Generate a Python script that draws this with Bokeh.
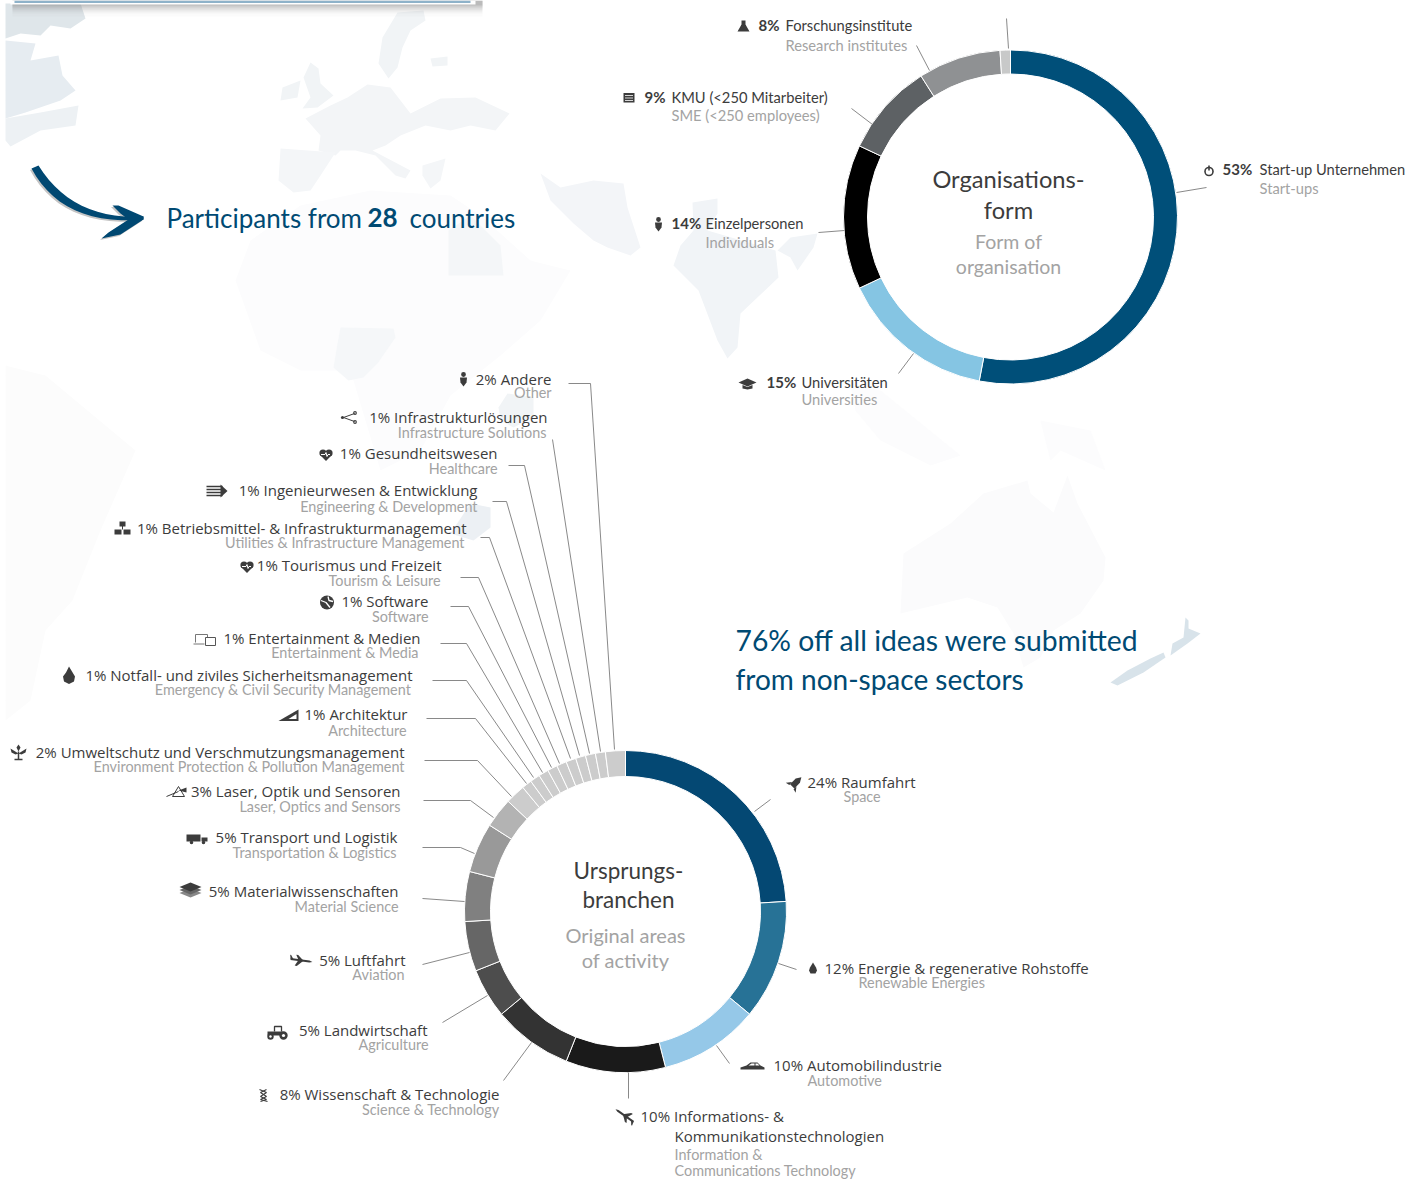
import math
from bokeh.plotting import figure
from bokeh.models import Range1d, ColumnDataSource
from bokeh.core.properties import value
from bokeh.embed import file_html
from bokeh.resources import INLINE

# ---------- data ----------
org_names = ["Start-up Unternehmen", "Universitäten", "Einzelpersonen", "KMU (<250 Mitarbeiter)", "Forschungsinstitute", "Sonstige"]
org_english = ["Start-ups", "Universities", "Individuals", "SME (<250 employees)", "Research institutes", ""]
org_values = [53, 15, 14, 9, 8, 1]
org_colors = ["#004f79", "#85c5e3", "#000000", "#5d6164", "#8f9193", "#c8c9c9"]

branch_names = ["Raumfahrt", "Energie & regenerative Rohstoffe", "Automobilindustrie", "Informations- &", "Wissenschaft & Technologie",
                "Landwirtschaft", "Luftfahrt", "Materialwissenschaften", "Transport und Logistik", "Laser, Optik und Sensoren",
                "Umweltschutz und Verschmutzungsmanagement", "Architektur", "Notfall- und ziviles Sicherheitsmanagement",
                "Entertainment & Medien", "Software", "Tourismus und Freizeit", "Betriebsmittel- & Infrastrukturmanagement",
                "Ingenieurwesen & Entwicklung", "Gesundheitswesen", "Infrastrukturlösungen", "Andere"]
branch_english = ["Space", "Renewable Energies", "Automotive", "Information &", "Science & Technology", "Agriculture", "Aviation",
                  "Material Science", "Transportation & Logistics", "Laser, Optics and Sensors",
                  "Environment Protection & Pollution Management", "Architecture", "Emergency & Civil Security Management",
                  "Entertainment & Media", "Software", "Tourism & Leisure", "Utilities & Infrastructure Management",
                  "Engineering & Development", "Healthcare", "Infrastructure Solutions", "Other"]
branch_values = [24, 12, 10, 10, 8, 5, 5, 5, 5, 3, 2, 1, 1, 1, 1, 1, 1, 1, 1, 1, 2]
branch_colors = ["#044873", "#277296", "#95c8e8", "#1a1a1a", "#333333", "#4d4d4d", "#666666", "#808080", "#999999", "#b3b3b3",
                 "#cccccc", "#cccccc", "#cccccc", "#cccccc", "#cccccc", "#cccccc", "#cccccc", "#cccccc", "#cccccc", "#cccccc", "#cccccc"]

# ---------- layout (pixel positions on the page) ----------
ORG_C, ORG_R = (1010, 216.5), (143, 167)
BR_C, BR_R = (625, 911), (135, 161)
# (pct x, name x, y, english y)
org_lab = [(1222, 1259, 170, 189), (766, 801, 383, 400), (671, 705, 224, 243), (644, 671, 98, 116), (758, 785, 26, 46)]
# (main edge x, main y, english edge x, english y, align)
br_lab = [(807, 783, 843, 798, "left"), (824, 969, 858, 984, "left"), (773, 1066, 807, 1082, "left"), (640, 1117, 674, 1156, "left"),
          (499, 1095, 499, 1111, "right"), (427, 1031, 428, 1046, "right"), (405, 961, 404, 976, "right"), (398, 892, 398, 908, "right"),
          (397, 838, 396, 854, "right"), (400, 792, 400, 808, "right"), (404, 753, 404, 768, "right"), (407, 715, 406, 732, "right"),
          (412, 676, 411, 691, "right"), (420, 639, 418, 654, "right"), (428, 602, 428, 618, "right"), (441, 566, 440, 582, "right"),
          (466, 529, 464, 544, "right"), (477, 491, 477, 508, "right"), (497, 454, 497, 470, "right"), (547, 418, 546, 434, "right"),
          (551, 380, 551, 394, "right")]
leaders = [
    [(1206, 187), (1176, 192)], [(898, 373), (913, 353)], [(818, 232), (844, 230)], [(851, 108), (872, 124)],
    [(916, 45), (929, 70)], [(1006, 18), (1008, 48)],
    [(754, 811), (770, 799)], [(778, 963), (796, 969)], [(716, 1045), (729, 1063)], [(628, 1072), (628, 1098)],
    [(531, 1042), (503, 1080)], [(487, 995), (442, 1022)], [(469, 952), (422, 964)], [(464, 901), (422, 898)],
    [(474, 853), (460, 847), (422, 847)], [(493, 817), (470, 800), (423, 800)], [(511, 796), (477, 760), (424, 760)],
    [(526, 783), (475, 718), (426, 718)], [(533, 777), (466, 680), (432, 680)], [(542, 772), (466, 643), (440, 643)],
    [(551, 767), (468, 606), (450, 606)], [(559, 763), (478, 577), (460, 577)], [(570, 758), (489, 537), (480, 537)],
    [(579, 755), (506, 501), (492, 501)], [(589, 753), (524, 465), (508, 465)], [(600, 751), (552, 439)],
    [(614, 749), (590, 383), (568, 383)],
]

map_patches = [
    ("#dfe6ea", [(5,3),(80,3),(85,18),(70,28),(50,25),(40,35),(20,33),(5,38)]),
    ("#e6ecf1", [(5,40),(35,43),(30,60),(58,55),(62,75),(75,90),(60,100),(25,112),(5,118)]),
    ("#edf1f4", [(5,118),(40,112),(78,105),(75,125),(40,130),(10,146),(5,140)]),
    ("#f1f4f6", [(397,12),(423,10),(425,20),(410,30),(402,47),(397,67),(388,78),(378,63),(382,37)]),
    ("#f1f4f6", [(430,58),(447,56),(447,65),(432,66)]),
    ("#f1f4f6", [(310,62),(318,68),(320,83),(333,95),(317,107),(302,108),(310,97),(303,77)]),
    ("#f1f4f6", [(282,87),(300,80),(297,97),(280,100)]),
    ("#f3f5f7", [(347,97),(367,84),(390,87),(410,113),(440,98),(475,97),(509,113),(495,130),(470,125),(450,130),(425,125),(400,135),(385,145),(372,150),(410,170),(405,178),(395,175),(375,155),(355,150),(340,150),(335,155),(318,150),(320,135),(305,118),(330,105)]),
    ("#f4f6f8", [(280,148),(335,152),(320,175),(310,190),(293,192),(278,180)]),
    ("#f4f6f8", [(422,165),(445,158),(440,180),(430,188),(422,175)]),
    ("#fcfcfd", [(235,280),(250,240),(300,205),(370,190),(450,195),(480,215),(530,260),(570,270),(540,320),(500,355),(450,395),(420,450),(380,470),(350,370),(300,370),(260,350)]),
    ("#f4f6f8", [(448,230),(470,215),(500,245),(503,275),(470,275),(448,275)]),
    ("#f5f7f9", [(340,327),(393,328),(395,337),(377,363),(363,377),(348,380),(333,367),(337,343)]),
    ("#f3f5f8", [(540,173),(560,187),(593,180),(623,183),(627,207),(640,247),(630,255),(607,247),(593,240),(573,223),(550,200)]),
    ("#f1f4f7", [(692,202),(717,198),(717,213),(707,230),(775,250),(778,277),(740,313),(737,347),(727,358),(717,340),(698,290),(690,282),(673,265),(680,245),(693,230)]),
    ("#f1f4f7", [(790,237),(817,233),(813,247),(797,270),(790,257),(777,250)]),
    ("#f1f4f6", [(498,407),(507,393),(533,397),(533,417),(513,427),(500,420)]),
    ("#ecf0f4", [(470,503),(490,507),(490,527),(473,540),(450,533)]),
    ("#fbfbfc", [(1067,475),(1077,503),(1105,557),(1103,580),(1080,613),(1053,630),(1040,657),(1023,667),(1013,633),(997,607),(967,597),(900,613),(903,553),(950,523),(983,493),(1027,480),(1030,493),(1053,512)]),
    ("#fcfcfd", [(850,385),(880,390),(960,455),(930,465),(880,440),(855,410)]),
    ("#fcfcfd", [(1040,420),(1090,430),(1105,470),(1060,450),(1050,460)]),
    ("#fcfcfc", [(5,365),(45,375),(135,450),(100,530),(72,600),(45,630),(30,700),(5,720)]),
    ("#d8e3ea", [(1185,617),(1188,620),(1188,628),(1200,633),(1187,643),(1170,655),(1172,643),(1183,637)]),
    ("#d8e3ea", [(1163,652),(1165,657),(1143,672),(1117,685),(1110,682),(1127,670),(1150,658)]),
]

X0, Y0, W, H = 0, 0, 1410, 1185
p = figure(width=W, height=H, x_range=Range1d(X0, X0 + W), y_range=Range1d(Y0 + H, Y0), output_backend="svg",
           toolbar_location=None, min_border=0, background_fill_color="white", border_fill_color="white")
p.axis.visible = False
p.grid.visible = False
p.outline_line_color = None

# background map
p.patches([[q[0] for q in m[1]] for m in map_patches], [[q[1] for q in m[1]] for m in map_patches],
          fill_color=[m[0] for m in map_patches], line_color=None)

# top card, mostly above the page, and its shadow
for y1, a in [(5, .20), (7, .14), (9, .10), (11, .07), (13, .05), (16, .03)]:
    p.quad(left=[12], right=[482], top=[0], bottom=[y1], fill_color="#707070", fill_alpha=a, line_color=None)
p.quad(left=[10], right=[475], top=[0], bottom=[4], fill_color="white", line_color=None)
p.quad(left=[14], right=[470], top=[0], bottom=[2.5], fill_color="#8eb2c9", line_color=None)


# arrow
def bez(t, a, b, c):
    return ((1 - t) ** 2 * a[0] + 2 * t * (1 - t) * b[0] + t * t * c[0], (1 - t) ** 2 * a[1] + 2 * t * (1 - t) * b[1] + t * t * c[1])


top_e = [bez(i / 14, (38, 165), (72, 220), (143, 216)) for i in range(15)]
bot_e = [bez(i / 14, (31, 168), (62, 226), (143, 219)) for i in range(15)]
shaft = top_e + bot_e[::-1]
head = [(112, 205), (118, 205), (143, 216), (143, 219), (120, 234), (101, 238), (108, 232), (128, 219), (120, 213)]
for col, dx, dy in [("#c4c4c4", -1.5, 1.5), ("#004872", 0, 0)]:
    p.patches([[a + dx for a, _ in shaft], [a + dx for a, _ in head]], [[b + dy for _, b in shaft], [b + dy for _, b in head]],
              fill_color=col, line_color=None)


def ring(values, colors, c, r):
    tot = sum(values)
    ends, acc = [], 0
    for v in values:
        ends.append((acc, acc + v))
        acc += v
    src = ColumnDataSource(dict(s=[math.pi / 2 - 2 * math.pi * b / tot for a, b in ends],
                                e=[math.pi / 2 - 2 * math.pi * a / tot for a, b in ends], col=colors))
    p.annular_wedge(x=c[0], y=c[1], inner_radius=r[0], outer_radius=r[1], start_angle="s", end_angle="e", direction="anticlock",
                    fill_color="col", line_color="white", line_width=1, source=src)


ring(org_values, org_colors, ORG_C, ORG_R)
ring(branch_values, branch_colors, BR_C, BR_R)

p.multi_line([[q[0] for q in l] for l in leaders], [[q[1] for q in l] for l in leaders], line_color="#7c7c7c", line_width=0.9)

DARK, GREY = "#3c3c3c", "#a3a3a3"
MAIN, SERIF2 = "Open Sans", "Lato"


def txt(x, y, t, size, col, font=SERIF2, align="left", style="normal"):
    p.text(x=[x], y=[y - 2], text=[t], text_font=value(font), text_font_size=size, text_color=col, text_align=align,
           text_baseline="middle", text_font_style=style)


# organisation labels
for i, (a, b, y1, y2) in enumerate(org_lab):
    txt(a, y1, f"{org_values[i]}%", "15px", DARK, style="bold")
    txt(b, y1, org_names[i], "14.7px", DARK)
    txt(b, y2, org_english[i], "14.7px", GREY)

# branch labels
for i, (a, y1, b, y2, al) in enumerate(br_lab):
    txt(a, y1, f"{branch_values[i]}% {branch_names[i]}", "15px", DARK, MAIN, al)
    txt(b, y2, branch_english[i], "14.4px", GREY, SERIF2, al)
txt(674, 1137, "Kommunikationstechnologien", "15px", DARK, MAIN)
txt(674, 1172, "Communications Technology", "14.4px", GREY)

# centre titles
for x, y, t, s, c in [(1008, 180, "Organisations-", "23.7px", DARK), (1008, 211, "form", "23.7px", DARK), (1008, 243, "Form of", "19.5px", GREY),
                      (1008, 268, "organisation", "19.5px", GREY), (628, 872, "Ursprungs-", "22.5px", DARK), (628, 901, "branchen", "22.5px", DARK),
                      (625, 936, "Original areas", "20px", GREY), (625, 961, "of activity", "20px", GREY)]:
    txt(x, y, t, s, c, align="center")

# headlines
BLUE = "#004a73"
txt(166, 219, "Participants from", "26px", BLUE)
txt(367, 219, "28", "26px", BLUE, style="bold")
txt(409, 219, "countries", "26px", BLUE)
txt(735, 641, "76% off all ideas were submitted", "28.3px", BLUE)
txt(735, 680, "from non-space sectors", "28px", BLUE)

# ---------- icons ----------
ic = "#3c3c3c"
polys, pcols, lns, lws, lcs, circs = [], [], [], [], [], []


def rot(pts, deg):
    t = math.radians(deg)
    return [(a * math.cos(t) - b * math.sin(t), a * math.sin(t) + b * math.cos(t)) for a, b in pts]


def P(cx, cy, pts, col=ic, deg=0):
    polys.append([(cx + a, cy + b) for a, b in rot(pts, deg)])
    pcols.append(col)


def L(cx, cy, pts, w=1.2, col=ic, deg=0):
    lns.append([(cx + a, cy + b) for a, b in rot(pts, deg)])
    lws.append(w)
    lcs.append(col)


def C(cx, cy, r, col=ic):
    circs.append((cx, cy, r, col))


def rect(a, b, c, d):
    return [(a, b), (c, b), (c, d), (a, d)]


def person(x, y):
    C(x, y - 5, 2.4)
    P(x, y, [(-3.5, -2), (3.5, -2), (3, 3), (0, 7), (-3, 3)])


def heart(x, y):
    C(x - 3, y - 1.5, 3.6)
    C(x + 3, y - 1.5, 3.6)
    P(x, y, [(-6.4, 0), (6.4, 0), (0, 6.5)])
    L(x, y, [(-5, 0), (-1, 0), (0, -2), (1, 2), (2, 0), (4, 0)], 1, "white")


def drop(x, y, s=1.0):
    P(x, y, [(a * s, b * s) for a, b in [(0, -6), (3, -1), (4, 2), (2.5, 5), (-2.5, 5), (-4, 2), (-3, -1)]])


def plane(x, y, deg=0):
    P(x, y, [(-11, -1), (8, -1), (11, 0), (8, 1), (-11, 1)], deg=deg)
    P(x, y, [(-3, 0), (2, 0), (-4, 6), (-6, 6)], deg=deg)
    P(x, y, [(-3, 0), (2, 0), (-4, -5), (-6, -5)], deg=deg)
    P(x, y, [(-11, 0), (-8, 0), (-11, -4), (-12, -4)], deg=deg)


# power
C(1208.5, 171, 4.8), C(1208.5, 171, 3.2, "white"), L(1208.5, 170, [(0, -5), (0, 0)], 1.6)
# flask
P(743, 26, [(-2, -6), (2, -6), (2, -2), (6, 5), (-6, 5), (-2, -2)])
# kmu
P(628.5, 97, rect(-5.5, -4.5, 5.5, 5))
for yy in (-2, 0.5, 3):
    L(628.5, 97, [(-4, yy), (4, yy)], 0.8, "white")
person(658, 224)
# cap
P(747, 383, [(-9, -1), (0, -5), (9, -1), (0, 3)])
P(747, 383, [(-5, 1.5), (0, 3.5), (5, 1.5), (5, 5), (0, 6), (-5, 5)])
person(463, 379)
# network
x, y = 349, 417
L(x, y, [(5, -4), (-6, 0), (5, 4)], 1)
C(x - 7, y, 1.6), C(x + 5.5, y - 4.5, 1.9), C(x + 5.5, y + 4.5, 1.9), C(x + 5.5, y - 4.5, 0.8, "white"), C(x + 5.5, y + 4.5, 0.8, "white")
heart(325.5, 454)
heart(246.5, 566)
# engineering
x, y = 216, 491
for yy in (-5, -2, 1, 4):
    L(x, y, [(-10, yy), (6, yy)], 1.5)
P(x, y, [(4, -7), (11, -0.5), (4, 6)])
# utilities
x, y = 122, 528
L(x, y, [(0, -3), (0, 1)], 1)
P(x, y, rect(-3, -7, 3, -2))
P(x, y, rect(-8, 1, -1, 6))
P(x, y, rect(1, 1, 8, 6))
# globe
x, y = 326.5, 602
C(x, y, 7)
L(x, y, [(-6, -2), (-1, 0), (3, 5)], 1.3, "white")
L(x, y, [(1, -6), (2, -2), (6, -1)], 1.3, "white")
# devices
x, y = 204, 639
L(x, y, [(-9, 3), (-9, -5), (3, -5), (3, -2)], 1, "#777777")
L(x, y, [(-11, 4.5), (0, 4.5)], 1, "#777777")
L(x, y, [(1, -2), (11, -2), (11, 6), (1, 6), (1, -2)], 1, "#555555")
# flame
P(68.5, 675, [(0, -9), (3, -4), (6, 1), (5, 6), (0, 8.5), (-5, 6), (-6, 1), (-3, -3)])
# ruler
P(288, 715, [(-10, 5.5), (10, -6), (10, 5.5)])
P(288, 715, [(0, 3.5), (8, -1.5), (8, 3.5)], "white")
# plant
x, y = 18, 752
L(x, y, [(0, 7), (0, -1)], 1.5)
L(x, y, [(-4, 7), (4, 7)], 1.5)
P(x, y, [(0, 1), (-8, -4), (-7, 0), (-3, 2)])
P(x, y, [(0, 1), (8, -4), (7, 0), (3, 2)])
P(x, y, [(0, -1), (-2, -5), (0, -8), (2, -5)])
# prism
x, y = 177, 791
L(x, y, [(-5, 5), (1, -5), (7, 5), (-5, 5)], 1)
L(x, y, [(-11, 5), (1, 0)], 1)
P(x, y, [(1, -1), (9, -4), (9, 1)])
# truck
x, y = 197, 838
P(x, y, rect(-11, -4, 3, 3))
P(x, y, rect(4, -1, 10, 3))
C(x - 6, y + 4, 1.8), C(x + 6, y + 4, 1.8)
# layers
x, y = 190, 890
for dy, col in [(-3.5, ic), (-0.5, "#666666"), (2.5, "#888888")][::-1]:
    P(x, y + dy, [(-11, 0), (0, -4.5), (11, 0), (0, 4.5)], col)
plane(301, 960, 8)
plane(624, 1115, 215)
# tractor
x, y = 277, 1032
L(x, y, [(-3, -1), (-3, -6), (4, -6), (4, -1)], 1.3)
P(x, y, rect(-10, -1, 5, 3))
C(x - 7, y + 4, 3.2), C(x + 6, y + 3, 4.2), C(x + 6, y + 3, 1.6, "white"), C(x - 7, y + 4, 1.2, "white")
# dna
x, y = 263, 1095
L(x, y, [(-4, -6), (3, -3), (-3, 1), (3, 4), (-3, 6)], 1.1)
L(x, y, [(3, -6), (-3, -3), (3, 1), (-3, 4), (4, 6)], 1.1)
# rocket
x, y = 794.5, 783
P(x, y, [(0, -9), (3, -4), (3, 4), (-3, 4), (-3, -4)], deg=45)
P(x, y, [(-3, 1), (-7, 6), (-3, 5)], deg=45)
P(x, y, [(3, 1), (7, 6), (3, 5)], deg=45)
drop(812.5, 968)
# car
x, y = 752, 1066
P(x, y, [(-12, 1), (-6, -1), (-2, -4), (5, -4), (8, -1), (12, 1), (12, 3), (-12, 3)])
P(x, y, [(-4, -1), (-1, -3), (2, -3), (2, -1)], "white")
P(x, y, [(3, -1), (3, -3), (5, -3), (7, -1)], "white")

p.patches([[a for a, _ in q] for q in polys], [[b for _, b in q] for q in polys], fill_color=pcols, line_color=None)
p.circle(x=[c[0] for c in circs], y=[c[1] for c in circs], radius=[c[2] for c in circs], fill_color=[c[3] for c in circs], line_color=None)
for q, w, col in zip(lns, lws, lcs):
    p.line([a for a, _ in q], [b for _, b in q], line_width=w, line_color=col)

open("out.html", "w").write(file_html(p, INLINE))
